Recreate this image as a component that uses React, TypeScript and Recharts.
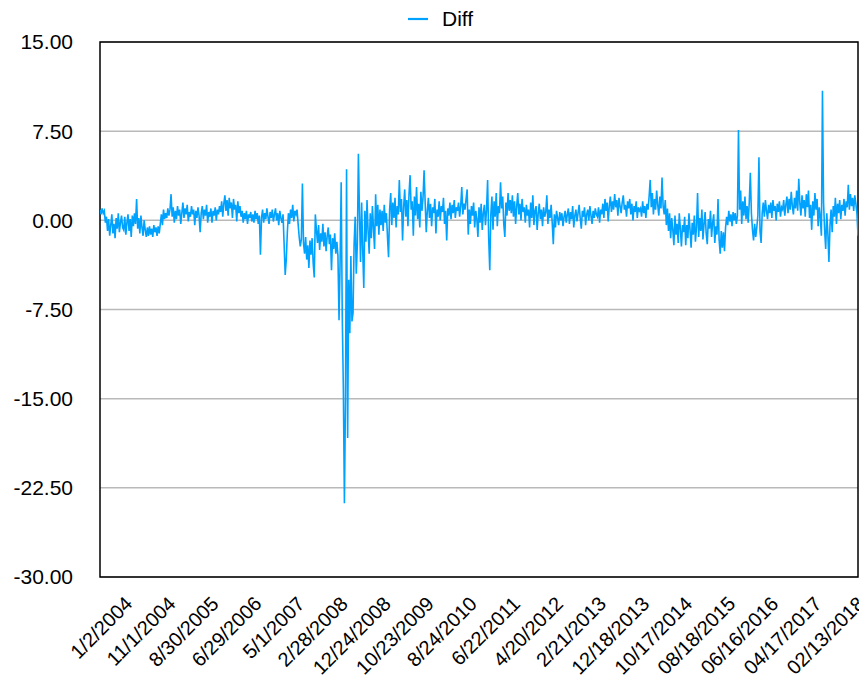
import React from 'react';
import { LineChart, Line, XAxis, YAxis, CartesianGrid, Legend, ReferenceArea } from 'recharts';

const FONT = '"Liberation Sans", Arial, Helvetica, sans-serif';
const LINE_COLOR = '#00a2ff';

// x-axis labels, one every 40 points
const DATES = [
  '1/2/2004', '11/1/2004', '8/30/2005', '6/29/2006', '5/1/2007', '2/28/2008',
  '12/24/2008', '10/23/2009', '8/24/2010', '6/22/2011', '4/20/2012', '2/21/2013',
  '12/18/2013', '10/17/2014', '08/18/2015', '06/16/2016', '04/17/2017', '02/13/2018',
];
const TICK_START = 22;
const TICK_STEP = 40;

const Y_TICKS = [-30, -22.5, -15, -7.5, 0, 7.5, 15];

// Diff values, split by label span
const lead = [0.9, 0.5, 1.0, 0.6, 0.8, -0.2, 0.3, -0.9, 0.1, -1.3, -0.4, 0.5, -1.1, -0.3, -1.5, 0.2, -0.7, 0.6, -1.0, -0.2, 0.4, -0.6];
const span00 = [-0.8, 0.3, -1.2, -0.2, 0.5, -0.9, 0.1, -1.4, 0.4, -0.5, 0.6, -0.3, 1.8, -0.7, 0.2, -1.1, 0.4, -0.6, -1.3, 0.0, -0.8, -1.4, -0.6, -1.3, -0.5, -1.2, -0.7, -1.4, -0.4, -1.0, -0.6, -1.3, -0.5, -1.1, -0.3, 0.5, -0.4, 0.9, 0.1, 0.6];
const span01 = [0.2, 1.0, 0.4, 0.9, 2.2, 0.3, 1.1, -0.2, 0.8, 0.1, 1.2, 0.4, 0.9, -0.3, 0.6, 1.5, 0.2, 1.0, 0.5, 1.3, -0.1, 0.7, 0.3, 1.2, 0.5, 0.9, -0.4, 0.8, 0.2, 1.1, 0.4, -1.0, 0.6, 1.2, 0.1, 0.9, 0.4, 1.3, -0.2, 0.7];
const span02 = [0.3, 1.0, -0.2, 0.8, 0.4, 1.1, 0.0, 0.9, 0.5, 1.2, 0.7, 1.6, 0.3, 1.4, 2.1, 0.8, 1.7, 0.4, 1.9, 1.0, 1.5, 0.2, 1.8, 0.9, 1.3, -0.1, 1.6, 0.6, 1.2, 0.3, 0.8, -0.2, 0.6, 0.1, 0.8, -0.3, 0.5, 0.2, 0.7, -0.1];
const span03 = [0.5, -0.2, 0.8, 0.1, 0.6, -0.3, 0.4, -2.9, 0.2, 0.9, -0.2, 0.6, 0.1, 1.0, 0.3, -0.3, 0.7, 0.2, 0.9, -0.1, 0.5, 1.0, 0.0, 0.6, -0.4, 0.8, 0.2, -0.2, 0.5, -2.0, -4.6, -3.3, -1.0, 0.6, -0.3, 0.9, 0.2, 1.3, -0.1, 0.8];
const span04 = [0.5, 0.9, -0.3, -1.4, -2.2, -1.6, 3.1, -1.9, -2.8, -1.4, -3.3, -2.1, -4.0, -1.7, -2.9, -1.5, -3.6, -4.8, 0.5, -0.8, -1.9, -0.4, -2.5, -1.1, -1.8, -0.3, -2.2, -1.0, -2.6, -1.3, -0.6, -2.0, -1.2, -4.2, -1.5, -2.4, -1.1, -2.8, -1.8, -3.0];
const span05 = [-8.4, -3.5, 3.2, -8.0, -14.0, -23.8, -15.0, 4.3, -18.3, -5.0, -9.5, -3.0, -8.5, -7.8, -2.0, 0.3, -4.5, -2.0, 5.6, 0.5, -3.5, 1.5, -2.5, -5.7, 0.8, -1.8, 1.7, -0.9, -2.8, 0.6, -1.5, 1.2, -0.7, -2.4, 2.2, -0.5, 1.3, -1.2, 0.9, -0.4];
const span06 = [0.8, -0.9, 1.3, -0.2, 0.6, -1.4, -3.1, 0.9, 2.3, -0.4, 1.5, 0.2, 1.9, -0.6, 1.2, 0.5, 3.4, 0.7, 1.8, -1.7, 1.1, 2.6, 0.3, 1.7, -0.5, 2.2, 3.8, 0.9, 1.6, -1.3, 2.0, 0.4, 2.8, 0.1, 1.4, -0.6, 2.4, 0.8, 1.9, 4.2];
const span07 = [1.5, -1.0, 0.8, 1.9, 0.2, 1.4, -0.5, 1.1, 0.6, 1.8, -1.1, 0.9, 0.3, 1.6, 0.0, 1.2, 0.7, 1.9, -0.3, 0.8, -1.7, 1.0, 0.4, 1.5, 0.1, 1.3, 0.6, 1.7, 0.2, 1.1, 0.8, 1.5, 0.3, 1.2, 2.8, 0.5, 1.4, 0.9, 1.8, 2.6];
const span08 = [-1.2, 0.9, -0.3, 1.2, 0.4, 1.5, -0.6, 0.8, 0.1, -1.4, 1.1, -0.2, 1.4, -0.8, 0.6, 1.3, -0.4, 0.9, 3.4, -1.5, -4.2, 0.5, 2.0, -0.8, 1.6, 0.3, 2.3, -0.5, 1.2, 0.6, 3.2, 1.0, 2.0, -0.3, -1.4, 1.5, 0.4, 2.3, 0.8, 1.7];
const span09 = [0.6, 2.1, 0.3, 1.6, -0.3, 1.2, 2.3, 0.5, 1.4, 0.0, 1.8, 0.7, 1.1, -0.2, 1.3, 0.4, 0.9, -0.6, 1.5, 0.2, 2.1, -0.4, 0.8, 1.2, -0.8, 0.6, 1.4, 0.1, 0.9, -0.5, 1.1, 0.3, 0.7, 2.1, -0.3, 0.9, 0.2, 1.3, -0.2, -2.0];
const span10 = [0.5, -0.6, 0.8, 0.2, -0.4, 0.7, 0.0, 0.6, -0.5, 0.3, 0.8, -0.2, 0.5, 1.0, -0.3, 0.7, 0.1, 1.2, -0.6, 0.4, 0.9, -0.1, 0.6, 1.3, 0.2, -0.7, 0.8, 0.3, 1.1, -0.4, 0.5, 0.9, 0.0, 1.2, 0.4, -0.3, 0.8, 0.2, 1.0, 0.5];
const span11 = [0.3, 1.1, -0.2, 0.9, 0.5, 1.4, 0.2, 1.8, 0.8, 1.5, -0.1, 1.2, 2.0, 0.7, 1.6, 0.9, 2.2, 1.1, 1.7, 0.4, 1.9, 1.2, 0.6, 1.5, 2.1, 0.9, 1.3, 0.3, 1.6, 1.0, 1.8, 0.5, 1.4, 0.0, 1.2, 0.7, 1.6, 0.2, 1.1, 0.8];
const span12 = [1.0, 0.3, 1.6, 0.6, 1.2, 0.2, 1.4, 0.9, 2.0, 3.4, 1.1, 2.3, 0.5, 1.8, 0.9, 2.5, 1.3, 0.4, 2.0, 1.0, 3.6, 1.2, 0.5, 1.7, -0.4, 1.0, -0.9, 0.6, -1.5, 0.2, -0.8, -2.1, 0.4, -1.2, -0.3, -1.9, 0.6, -0.7, -2.2, -0.4];
const span13 = [-1.0, 0.3, -2.1, -0.4, -1.5, 0.6, -0.8, -2.3, -0.2, -1.2, 0.4, -1.8, -0.6, 2.3, -1.4, 0.2, -0.9, 0.9, -1.6, -0.3, 0.7, -1.1, -2.0, 0.1, -0.7, 0.8, -1.4, -0.2, 0.5, -1.9, -0.5, -1.2, 1.8, -1.6, -2.8, -0.9, -2.3, -1.0, -2.6, -0.6];
const span14 = [0.3, -0.4, 0.8, -0.1, 0.5, -0.5, 0.7, 0.0, 0.6, -0.3, 0.4, 7.6, 0.9, 2.5, -0.3, 1.6, 0.4, 2.0, 0.1, 1.2, -0.2, 1.5, 4.0, 0.6, -0.8, -1.7, -0.3, -1.4, -0.6, 0.4, 5.3, -0.9, -1.9, 0.6, 1.5, 0.3, 1.7, 0.8, 0.1, 1.3];
const span15 = [0.6, 1.5, 0.2, 1.7, 0.8, 1.2, 0.0, 1.4, 0.7, 1.6, 0.3, 1.1, 0.9, 1.7, 0.4, 1.3, 2.0, 0.6, 1.8, 0.9, 2.4, 1.2, 0.5, 1.9, 1.0, 2.5, 0.8, 3.5, 1.4, 0.4, 2.1, 1.0, 1.7, 0.3, 2.2, 1.1, 2.5, 0.2, 1.3, -0.8];
const span16 = [1.6, 0.4, 2.3, 0.9, 1.8, -0.5, 1.1, 0.2, -1.3, 10.9, 1.5, -0.8, -2.4, 0.6, -1.1, -3.5, -0.4, 0.9, -1.0, 1.2, 0.3, 1.9, -0.3, 1.4, 0.6, 1.7, 0.1, 1.3, 0.8, 1.8, 0.4, 1.6, 1.1, 3.0, 0.9, 2.2, 1.2, 1.9, 0.8, 2.1];
const tail = [1.4, 0.6, -1.3];

const diff = [
  ...lead, ...span00, ...span01, ...span02, ...span03, ...span04, ...span05, ...span06,
  ...span07, ...span08, ...span09, ...span10, ...span11, ...span12, ...span13, ...span14,
  ...span15, ...span16, ...tail,
];
const data = diff.map((v, i) => ({ i, diff: v }));
const LAST = data.length - 1;
const TICK_IDX = DATES.map((_, k) => TICK_START + k * TICK_STEP);

const DateTick = (props: any) => {
  const { x, y, payload } = props;
  const k = Math.round((payload.value - TICK_START) / TICK_STEP);
  const ax = x + 10;
  const ay = y + 20;
  return (
    <text x={ax} y={ay} transform={`rotate(-45 ${ax} ${ay})`} textAnchor="end"
      fontSize={20} fontFamily={FONT} fill="#000">
      {DATES[k]}
    </text>
  );
};

const renderLegend = () => (
  <div style={{ position: 'relative', height: 34 }}>
    <svg style={{ position: 'absolute', left: 400, top: 9 }} width={20} height={4}>
      <line x1={0} y1={2} x2={20} y2={2} stroke={LINE_COLOR} strokeWidth={2.2} />
    </svg>
    <span style={{ position: 'absolute', left: 434, top: -1, fontSize: 21, lineHeight: '24px', fontFamily: FONT, color: '#000' }}>
      Diff
    </span>
  </div>
);

export default function App() {
  return (
    <div>
      <style>{'.recharts-surface { overflow: visible; }'}</style>
      <LineChart width={859} height={668} data={data} margin={{ top: 34, right: 9, bottom: 0, left: 0 }}>
        <CartesianGrid vertical={false} stroke="#b9b9b9" strokeWidth={1.5} />
        <XAxis dataKey="i" type="number" domain={[0, LAST]} ticks={TICK_IDX} interval={0}
          tick={<DateTick />} tickLine={false} axisLine={false} height={99} allowDataOverflow />
        <YAxis type="number" domain={[-30, 15]} ticks={Y_TICKS} interval={0}
          tickFormatter={(v: number) => v.toFixed(2)} width={92} axisLine={false} tickLine={false}
          tickSize={0} tickMargin={27} tick={{ fill: '#000', fontSize: 21, fontFamily: FONT }} />
        <Legend layout="horizontal" verticalAlign="middle" align="center" content={renderLegend}
          wrapperStyle={{ top: 0, left: 0, width: 859, height: 34 }} />
        <Line type="linear" dataKey="diff" stroke={LINE_COLOR} strokeWidth={1.6} dot={false}
          isAnimationActive={false} />
        <ReferenceArea x1={0} x2={LAST} y1={-30} y2={15} fill="none" stroke="#000" strokeWidth={1.5} ifOverflow="visible" />
      </LineChart>
    </div>
  );
}
